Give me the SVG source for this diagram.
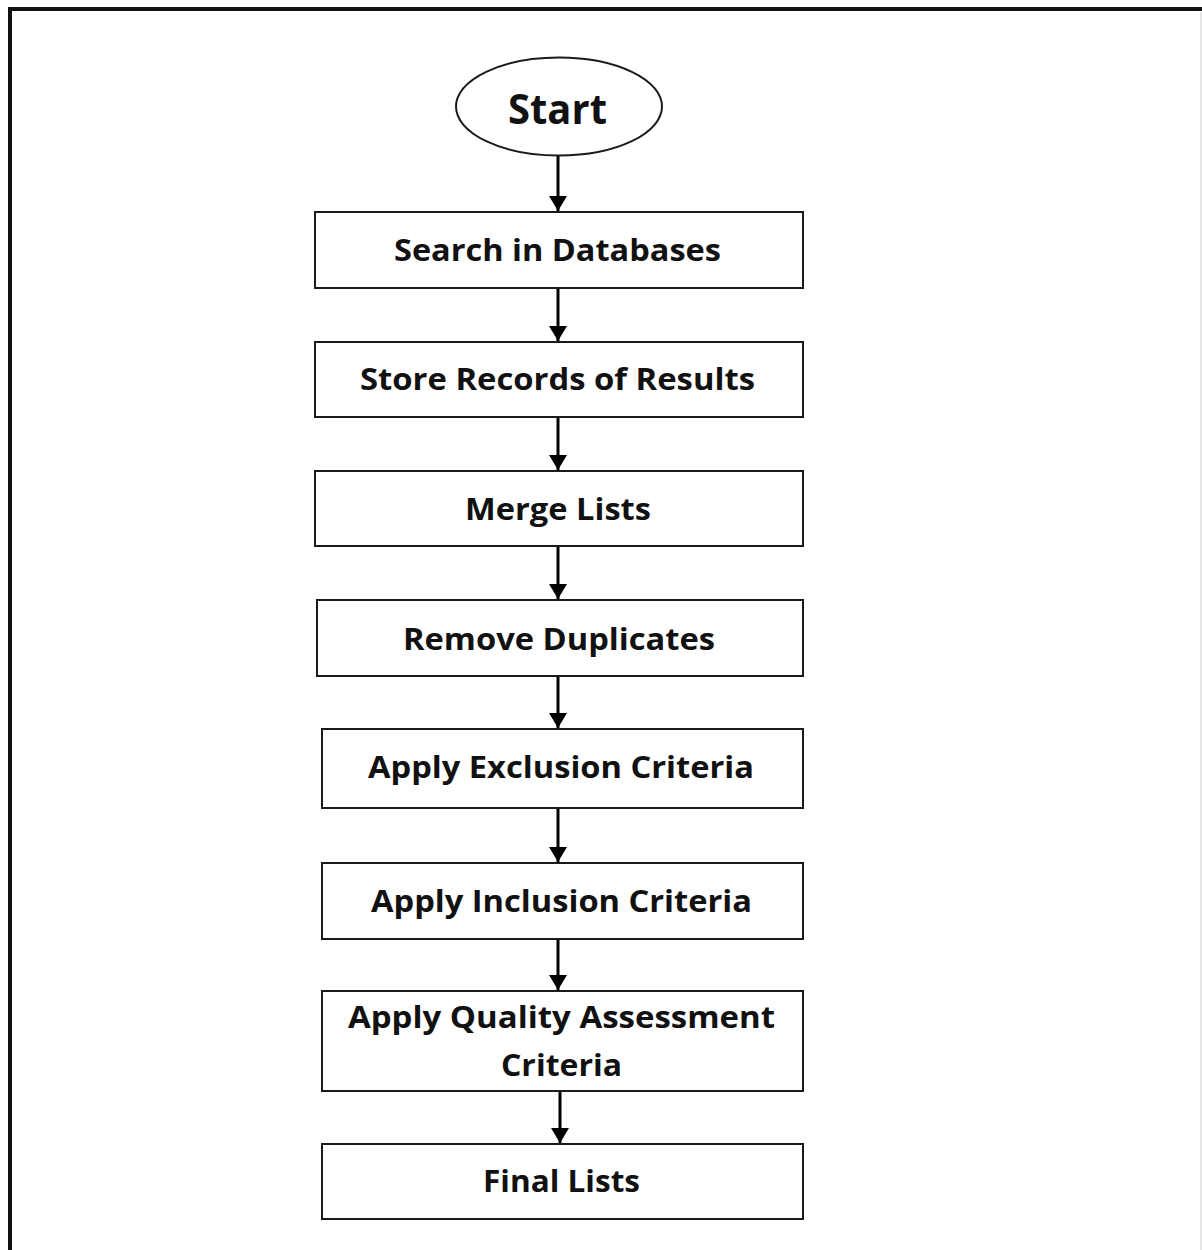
<svg xmlns="http://www.w3.org/2000/svg" width="1202" height="1250" viewBox="0 0 1202 1250">
<style>
.box{fill:#fff;stroke:#1a1a1a;stroke-width:2}
.lbl{font-family:"Open Sans","Liberation Sans",sans-serif;font-weight:bold;font-size:31px;fill:#111;text-anchor:middle}
.con{stroke:#000;stroke-width:3;fill:none;marker-end:url(#ah)}
</style>
<defs>
<marker id="ah" markerWidth="6" markerHeight="6" refX="5" refY="3" orient="auto" markerUnits="strokeWidth">
<path d="M0,0 L5,3 L0,6 z" fill="#000"/>
</marker>
</defs>
<rect x="0" y="0" width="1202" height="1250" fill="#fff"/>
<path d="M10,1252 L10,9 L1212,9" fill="none" stroke="#111" stroke-width="4"/>
<line x1="1201" y1="12" x2="1201" y2="1250" stroke="#ccc" stroke-width="1"/>
<g id="connectors">
<line class="con" x1="558" y1="156" x2="558" y2="211"/>
<line class="con" x1="558" y1="288" x2="558" y2="341"/>
<line class="con" x1="558" y1="417" x2="558" y2="470"/>
<line class="con" x1="558" y1="546" x2="558" y2="599"/>
<line class="con" x1="558" y1="676" x2="558" y2="728"/>
<line class="con" x1="558" y1="808" x2="558" y2="862"/>
<line class="con" x1="558" y1="939" x2="558" y2="990"/>
<line class="con" x1="560" y1="1091" x2="560" y2="1143"/>
</g>
<g id="start">
<ellipse class="box" cx="559" cy="106.5" rx="103" ry="49"/>
<text class="lbl" x="557.5" y="124" style="font-size:42px" textLength="99" lengthAdjust="spacingAndGlyphs">Start</text>
</g>
<g id="search">
<rect class="box" x="315" y="212" width="488" height="76"/>
<text class="lbl" x="557.5" y="261" textLength="327" lengthAdjust="spacingAndGlyphs">Search in Databases</text>
</g>
<g id="store">
<rect class="box" x="315" y="342" width="488" height="75"/>
<text class="lbl" x="557.5" y="390" textLength="395" lengthAdjust="spacingAndGlyphs">Store Records of Results</text>
</g>
<g id="merge">
<rect class="box" x="315" y="471" width="488" height="75"/>
<text class="lbl" x="558" y="520" textLength="186" lengthAdjust="spacingAndGlyphs">Merge Lists</text>
</g>
<g id="remove">
<rect class="box" x="317" y="600" width="486" height="76"/>
<text class="lbl" x="559" y="650" textLength="312" lengthAdjust="spacingAndGlyphs">Remove Duplicates</text>
</g>
<g id="exclusion">
<rect class="box" x="322" y="729" width="481" height="79"/>
<text class="lbl" x="561" y="778" textLength="386" lengthAdjust="spacingAndGlyphs">Apply Exclusion Criteria</text>
</g>
<g id="inclusion">
<rect class="box" x="322" y="863" width="481" height="76"/>
<text class="lbl" x="561.5" y="912" textLength="381" lengthAdjust="spacingAndGlyphs">Apply Inclusion Criteria</text>
</g>
<g id="quality">
<rect class="box" x="322" y="991" width="481" height="100"/>
<text class="lbl" x="561.5" y="1028" textLength="427" lengthAdjust="spacingAndGlyphs">Apply Quality Assessment</text>
<text class="lbl" x="561.5" y="1076" textLength="121" lengthAdjust="spacingAndGlyphs">Criteria</text>
</g>
<g id="final">
<rect class="box" x="322" y="1144" width="481" height="75"/>
<text class="lbl" x="561.5" y="1192" textLength="157" lengthAdjust="spacingAndGlyphs">Final Lists</text>
</g>
</svg>
